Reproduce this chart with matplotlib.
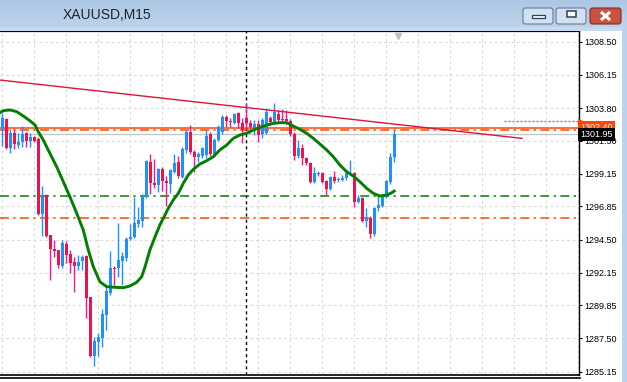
import matplotlib
matplotlib.use('Agg')
import matplotlib.pyplot as plt
import matplotlib.transforms as mtransforms
from matplotlib.colors import LinearSegmentedColormap
from matplotlib.patches import Rectangle, FancyBboxPatch
import numpy as np

# XAUUSD M15 candles
opens = [1302.32, 1303.03, 1300.98, 1302.04, 1301.19, 1301.40, 1302.04, 1301.47, 1301.76, 1301.61,
         1296.31, 1297.65, 1294.82, 1293.83, 1293.76, 1292.63, 1294.18, 1293.47, 1292.91, 1292.63,
         1292.98, 1293.33, 1290.43, 1286.25, 1287.25, 1287.53, 1289.16, 1290.72, 1292.48, 1292.48,
         1292.98, 1293.19, 1294.54, 1294.68, 1295.60, 1295.81, 1297.51, 1299.99, 1298.50, 1298.36,
         1299.49, 1298.64, 1298.43, 1299.28, 1299.99, 1298.92, 1300.84, 1302.11, 1300.69, 1300.34,
         1300.41, 1300.48, 1301.97, 1300.48, 1301.54, 1302.11, 1303.17, 1302.89, 1302.75, 1303.45,
         1302.75, 1303.10, 1302.75, 1302.39, 1302.68, 1301.97, 1302.04, 1303.10, 1302.82, 1303.38,
         1303.03, 1303.03, 1302.89, 1301.97, 1300.41, 1300.98, 1300.27, 1299.92, 1298.57, 1299.14,
         1299.21, 1298.64, 1298.07, 1298.92, 1298.68, 1298.71, 1298.85, 1299.14, 1299.21, 1297.16,
         1297.44, 1295.81, 1296.02, 1294.89, 1296.73, 1296.87, 1297.51, 1298.57, 1300.34]
highs = [1303.45, 1303.10, 1302.32, 1302.32, 1302.04, 1302.53, 1302.11, 1302.04, 1301.83, 1301.76,
         1298.29, 1297.72, 1294.82, 1294.46, 1293.76, 1294.46, 1294.39, 1293.76, 1293.26, 1293.40,
         1293.40, 1293.40, 1290.43, 1287.60, 1287.89, 1289.58, 1291.14, 1293.69, 1292.63, 1295.67,
         1293.62, 1294.68, 1295.60, 1297.51, 1296.80, 1297.72, 1300.13, 1300.55, 1300.20, 1299.56,
         1299.63, 1299.00, 1299.49, 1300.55, 1300.41, 1301.05, 1302.25, 1302.60, 1300.84, 1300.69,
         1301.05, 1302.25, 1302.11, 1301.69, 1302.60, 1303.31, 1303.31, 1303.10, 1303.45, 1303.52,
         1303.10, 1304.16, 1302.96, 1302.96, 1302.96, 1303.10, 1303.80, 1303.24, 1304.16, 1303.67,
         1303.74, 1303.67, 1303.03, 1302.11, 1301.54, 1301.26, 1300.34, 1299.99, 1299.63, 1299.35,
         1299.28, 1298.71, 1299.00, 1299.35, 1298.92, 1299.07, 1299.28, 1300.13, 1299.28, 1297.65,
         1297.51, 1296.73, 1296.16, 1296.80, 1297.58, 1297.58, 1298.71, 1300.62, 1302.25]
lows = [1301.12, 1300.91, 1300.62, 1300.91, 1300.98, 1301.05, 1301.05, 1301.05, 1301.40, 1296.24,
        1294.75, 1294.68, 1291.63, 1293.26, 1292.48, 1292.48, 1292.84, 1292.13, 1290.79, 1292.34,
        1292.34, 1288.94, 1286.19, 1285.55, 1286.25, 1286.89, 1288.09, 1290.57, 1291.28, 1291.85,
        1291.28, 1292.98, 1294.46, 1294.61, 1295.38, 1295.38, 1297.44, 1297.72, 1298.15, 1297.86,
        1297.93, 1296.87, 1297.79, 1299.21, 1298.85, 1298.85, 1300.62, 1300.55, 1299.28, 1299.99,
        1300.27, 1300.27, 1300.41, 1300.34, 1301.47, 1301.97, 1302.46, 1302.46, 1302.68, 1302.39,
        1301.33, 1302.25, 1302.04, 1301.90, 1301.40, 1301.69, 1301.97, 1302.60, 1302.68, 1302.82,
        1302.82, 1302.68, 1301.83, 1300.13, 1300.27, 1299.77, 1299.77, 1298.50, 1298.50, 1298.99,
        1298.50, 1297.65, 1298.00, 1298.50, 1298.57, 1298.64, 1298.71, 1299.07, 1296.80, 1297.09,
        1295.74, 1295.38, 1294.61, 1294.75, 1296.52, 1296.80, 1297.44, 1298.43, 1299.99]
closes = [1303.10, 1300.98, 1302.04, 1301.26, 1301.40, 1301.97, 1301.47, 1301.76, 1301.47, 1296.31,
          1297.51, 1294.75, 1293.83, 1293.69, 1292.70, 1294.25, 1293.40, 1292.84, 1292.63, 1292.91,
          1293.26, 1290.36, 1286.25, 1287.32, 1287.60, 1289.23, 1290.86, 1292.48, 1292.41, 1293.05,
          1293.33, 1294.54, 1294.68, 1295.67, 1295.88, 1297.51, 1300.06, 1298.50, 1298.36, 1299.49,
          1298.64, 1298.50, 1299.42, 1299.92, 1298.99, 1300.91, 1302.11, 1300.69, 1300.34, 1300.55,
          1300.98, 1301.83, 1300.55, 1301.54, 1302.46, 1303.17, 1302.89, 1302.82, 1303.38, 1302.75,
          1302.25, 1302.75, 1302.46, 1302.68, 1301.90, 1302.96, 1303.52, 1302.82, 1303.52, 1302.96,
          1302.96, 1302.89, 1301.97, 1300.41, 1300.98, 1300.27, 1299.92, 1298.57, 1299.21, 1299.21,
          1298.57, 1298.07, 1298.92, 1298.64, 1298.71, 1298.85, 1299.21, 1299.21, 1297.16, 1297.44,
          1295.81, 1296.09, 1294.89, 1296.73, 1296.94, 1297.51, 1298.64, 1300.34, 1301.95]

# moving average (green) sampled along the drawn curve: bar index, price
ma_idx = [-0.6, 0.25, 1.9, 3.6, 5.25, 6.9, 8.2, 9.0, 10.25, 11.9, 13.6, 15.25, 16.9, 18.6, 20.25,
          21.5, 22.75, 24.4, 26.1, 28.2, 30.25, 31.9, 33.6, 34.85, 35.7, 36.9, 38.2, 39.4, 40.25,
          41.5, 42.75, 44.0, 45.25, 46.5, 47.75, 49.4, 51.1, 52.75, 54.4, 56.1, 57.75, 59.4, 61.1,
          62.75, 64.4, 66.1, 67.75, 69.4, 71.1, 72.75, 74.4, 76.1, 77.75, 79.4, 81.1, 82.75, 84.4,
          86.1, 87.75, 89.4, 91.1, 92.75, 94.4, 96.1, 97.35, 98.0]
ma_val = [1303.48, 1303.62, 1303.67, 1303.55, 1303.24, 1302.91, 1302.60, 1302.13, 1301.54, 1300.60,
          1299.65, 1298.59, 1297.53, 1296.36, 1295.17, 1293.76, 1292.58, 1291.51, 1291.16, 1291.12,
          1291.09, 1291.21, 1291.47, 1291.87, 1292.58, 1293.76, 1294.70, 1295.53, 1296.00, 1296.71,
          1297.30, 1297.77, 1298.48, 1299.07, 1299.47, 1299.84, 1300.08, 1300.36, 1300.84, 1301.19,
          1301.66, 1301.90, 1302.02, 1302.25, 1302.44, 1302.60, 1302.72, 1302.77, 1302.77, 1302.53,
          1302.30, 1302.02, 1301.66, 1301.26, 1300.84, 1300.36, 1299.77, 1299.30, 1298.99, 1298.59,
          1298.12, 1297.77, 1297.58, 1297.65, 1297.81, 1297.93]

trend_idx = [-0.6, 129.9]
trend_val = [1305.79, 1301.66]

level_solid = 1302.40
levels_dashdot = [1302.23, 1297.58, 1296.02]
levels_colors = ['#FF4500', '#008000', '#FF4500']
bid = 1301.95
arrow_level = 1302.89
arrow_idx = [125.4, 144.0]
vline_idx = 61
shift_idx = 98.9

price_ticks = [1308.50, 1306.15, 1303.80, 1301.50, 1299.15, 1296.85, 1294.50, 1292.15, 1289.85,
               1287.50, 1285.15]

W, H = 627, 382
fig = plt.figure(figsize=(W / 100, H / 100), dpi=100, facecolor='white')
ax = fig.add_axes([0, (H - 375) / H, 579 / W, 344 / H], zorder=2)

x = np.arange(len(opens))
o = np.array(opens); c = np.array(closes)
up = c >= o
blue = '#1E90FF'
red_body = '#F0104E'
red_wick = '#FF1493'

# grid
for gx in np.arange(0, 145, 8):
    ax.axvline(gx, color='#DADADA', lw=0.8, dashes=(2.5, 2.5), zorder=0)
for gy in price_ticks:
    ax.axhline(gy, color='#DADADA', lw=0.8, dashes=(2.5, 2.5), zorder=0)

dd = (5.8, 2.9, 1.5, 2.9)
ax.axhline(level_solid, color='#FF4500', lw=1.1, zorder=1)
for lv, col in zip(levels_dashdot, levels_colors):
    ax.axhline(lv, color=col, lw=1.1, dashes=dd, zorder=1)
ax.axhline(bid, color='#C8C8C8', lw=1.0, zorder=1)

ax.axvline(vline_idx, color='black', lw=1.0, dashes=(2.2, 2.2), zorder=1)

# candles
wick_cols = [blue if u else red_wick for u in up]
body_cols = [blue if u else red_body for u in up]
ax.vlines(x, lows, highs, colors=wick_cols, lw=1.0, zorder=3)
bottoms = np.minimum(o, c)
heights = np.maximum(np.abs(c - o), 0.07)
ax.bar(x, heights, bottom=bottoms, width=0.8, color=body_cols, linewidth=0, zorder=4)

ax.plot(ma_idx, ma_val, color='#008000', lw=2.1, zorder=5)
ax.plot(trend_idx, trend_val, color='#DC143C', lw=1.0, zorder=5)

ax.plot(arrow_idx, [arrow_level, arrow_level], color='#FF4500', lw=0.9, dashes=(1.6, 1.6), zorder=5)
ax.plot([arrow_idx[1]], [arrow_level], marker=9, color='#FF4500', ms=3.5, zorder=5, clip_on=False)

tr = mtransforms.blended_transform_factory(ax.transData, ax.transAxes)
ax.plot([shift_idx], [0.985], marker='v', color='#C0C0C0', ms=5, transform=tr, clip_on=False, zorder=6)

ax.set_xlim(-0.575, 144.18)
ax.set_ylim(1284.91, 1309.26)
ax.set_xticks([])
ax.yaxis.tick_right()
ax.set_yticks(price_ticks)
ax.set_yticklabels(['%.2f' % v for v in price_ticks], fontsize=6.5, family='Liberation Sans')
ax.tick_params(axis='y', length=2.5, width=0.8, pad=1.5, colors='black')
ax.spines['left'].set_visible(False)
ax.spines['top'].set_linewidth(1.6)
ax.spines['right'].set_linewidth(1.0)
ax.spines['bottom'].set_linewidth(1.2)

# price tags on the axis
ytr = mtransforms.blended_transform_factory(ax.transAxes, ax.transData)
ax.text(1.003, level_solid, '%.2f' % level_solid, transform=ytr, fontsize=6.5, family='Liberation Sans',
        color='white', va='center', ha='left', zorder=10, clip_on=False,
        bbox=dict(boxstyle='square,pad=0.25', fc='#FF4500', ec='none'))
ax.text(1.003, bid, '%.2f' % bid, transform=ytr, fontsize=6.5, family='Liberation Sans',
        color='white', va='center', ha='left', zorder=11, clip_on=False,
        bbox=dict(boxstyle='square,pad=0.25', fc='black', ec='none'))

# window chrome
ov = fig.add_axes([0, 0, 1, 1], zorder=5)
ov.patch.set_alpha(0)
cmap = LinearSegmentedColormap.from_list('tb', ['#ADC7E4', '#BCD3EC'])
ov.imshow(np.linspace(0, 1, 30).reshape(-1, 1), cmap=cmap, aspect='auto', extent=(0, W, 27, 0))
ov.add_patch(Rectangle((0, 27), W, 4, fc='#C7DAF0', ec='none'))
ov.add_patch(Rectangle((622, 27), 5, H, fc='#BCD2EC', ec='none'))
ov.text(63, 15, 'XAUUSD,M15', fontsize=10, family='Liberation Sans', color='#1B2433',
        va='center', ha='left')
for bx in (523, 556):
    ov.add_patch(FancyBboxPatch((bx, 8), 30, 16, boxstyle='round,pad=0,rounding_size=2.5',
                                fc='#D2E0F1', ec='#667A96', lw=0.8))
ov.add_patch(Rectangle((532, 15), 13, 3, fc='white', ec='#2E3F5C', lw=0.9))
ov.add_patch(Rectangle((567, 11), 9, 6, fc='white', ec='#2E3F5C', lw=1.1))
ov.add_patch(FancyBboxPatch((590, 8), 31, 16, boxstyle='round,pad=0,rounding_size=2.5',
                            fc='#C9523F', ec='#7D2E22', lw=0.8))
ov.plot([601, 610], [12, 20], color='white', lw=2.2, solid_capstyle='butt')
ov.plot([601, 610], [20, 12], color='white', lw=2.2, solid_capstyle='butt')
ov.plot([0, 580], [378, 378], color='black', lw=1.2)
ov.text(584, 386, '100', fontsize=6.5, family='Liberation Sans', va='center', ha='left')
ov.set_xlim(0, W)
ov.set_ylim(H, 0)
ov.axis('off')

fig.savefig('out.png', dpi=100, facecolor='white')
